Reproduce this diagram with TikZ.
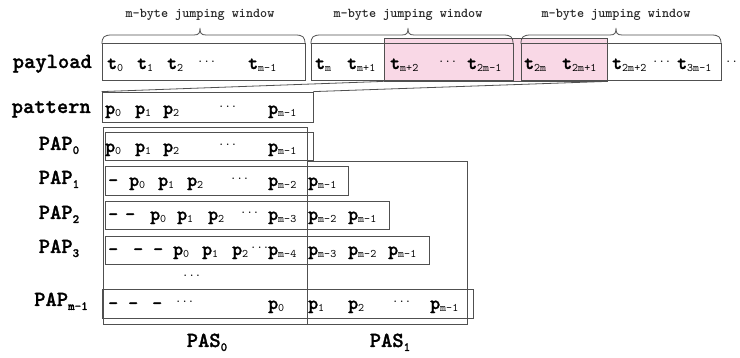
\documentclass[tikz,border=0pt]{standalone}
\usepackage{fontspec}
\usetikzlibrary{fit}
% heavy typewriter face for symbols and labels, plain one for subscripts
\newfontfamily\heavytt{lmmonolt10-bold.otf}[FakeBold=1.2]
\newfontfamily\plaintt{lmmono10-regular.otf}
\definecolor{linegray}{HTML}{505050}
\definecolor{winpink}{HTML}{F9D8E6}
% light subscript for cell symbols, bold subscript for row labels, raised dots
\newcommand\sbx[1]{\raisebox{-3pt}{\plaintt\fontsize{11.5}{11.5}\selectfont #1}}
\newcommand\lsb[1]{\raisebox{-4pt}{\fontsize{12.5}{12.5}\selectfont #1}}
\newcommand\dts{\raisebox{6pt}{\plaintt\fontsize{12}{12}\selectfont ...}}

\begin{document}
\begin{tikzpicture}[x=1pt,y=-1pt,
  box/.style={draw=linegray, line width=0.8pt, inner sep=0pt},
  ln/.style={draw=linegray, line width=0.8pt},
  tok/.style={anchor=base west, inner sep=0pt, font=\heavytt\fontsize{19}{19}\selectfont},
  rowlab/.style={inner sep=0pt, font=\heavytt\fontsize{21.5}{21.5}\selectfont},
  winlab/.style={inner sep=0pt, anchor=base, font=\ttfamily\bfseries\fontsize{13.5}{14}\selectfont, text=black!85},
  ]
\useasboundingbox (0,0) rectangle (740,358);

% ---- highlighted slice of the payload ----
\node[box, fit={(384,38) (607,81)}, fill=winpink] (pink) {};

% ---- payload windows ----
\node[box, fit={(102,43) (305,80)}] (pl1) {};
\node[box, fit={(311,43) (513,80)}] (pl2) {};
\node[box, fit={(521,43) (721,80)}] (pl3) {};

% curly braces over the windows
\foreach \l/\r/\t in {102/305/200, 311/513/408, 521/721/616}{
  \draw[ln] (\l,44) .. controls (\l,37) and (\l+2,35) .. (\l+10,35) -- (\t-6,35)
    .. controls (\t-1,35) and (\t,33) .. (\t,28)
    .. controls (\t,33) and (\t+1,35) .. (\t+6,35) -- (\r-10,35)
    .. controls (\r-2,35) and (\r,37) .. (\r,44);
}
\node[winlab] (w1) at (200,18) {m-byte jumping window};
\node[winlab] (w2) at (408,18) {m-byte jumping window};
\node[winlab] (w3) at (616,18) {m-byte jumping window};

% ---- pattern and the two PAS columns ----
\node[box, fit={(102,92) (313,122)}] (pat) {};
\node[box, fit={(103,127) (307,324)}] (pas0) {};
\node[box, fit={(307,161) (467,324)}] (pas1) {};

% ---- shifted patterns ----
\node[box, fit={(105,132) (313,160)}] (pap0) {};
\node[box, fit={(105,166) (348,195)}] (pap1) {};
\node[box, fit={(105,201) (389,229)}] (pap2) {};
\node[box, fit={(105,236) (429,264)}] (pap3) {};
\node[box, fit={(102,289) (473,318)}] (papm) {};

% funnel from the highlighted slice down to the pattern
\draw[ln] (pink.south west) -- (pat.north west);
\draw[ln] (pink.south east) -- (pat.north east);

% ---- row labels ----
\node[rowlab, anchor=base east] (lpay) at (92,68) {payload};
\node[rowlab, anchor=base east] (lpat) at (91,113) {pattern};
\node[rowlab, anchor=base] (l0) at (59,150) {PAP\lsb{0}};
\node[rowlab, anchor=base] (l1) at (59,184) {PAP\lsb{1}};
\node[rowlab, anchor=base] (l2) at (59,219) {PAP\lsb{2}};
\node[rowlab, anchor=base] (l3) at (59,253) {PAP\lsb{3}};
\node[rowlab, anchor=base] (lm) at (61,306) {PAP\lsb{m-1}};
\node[rowlab, anchor=base] (s0) at (207,347) {PAS\lsb{0}};
\node[rowlab, anchor=base] (s1) at (390,347) {PAS\lsb{1}};

% ---- payload symbols ----
\foreach \x/\s [count=\i] in {107/t\sbx{0}, 137/t\sbx{1}, 167/t\sbx{2}, 197/\dts, 248/t\sbx{m-1},
  315/t\sbx{m}, 347/t\sbx{m+1}, 390/t\sbx{m+2}, 438/\dts, 467/t\sbx{2m-1},
  524/t\sbx{2m}, 562/t\sbx{2m+1}, 612/t\sbx{2m+2}, 652/\dts, 677/t\sbx{3m-1}, 725/\raisebox{6pt}{\plaintt\fontsize{12}{12}\selectfont ..}}
  \node[tok] (t\i) at (\x,69) {\s};

% ---- pattern symbols ----
\foreach \x/\s [count=\i] in {105/p\sbx{0}, 135/p\sbx{1}, 163/p\sbx{2}, 218/\dts, 268/p\sbx{m-1}}
  \node[tok] (pa\i) at (\x,114) {\s};

% ---- PAP_0 ----
\foreach \x/\s [count=\i] in {105/p\sbx{0}, 135/p\sbx{1}, 163/p\sbx{2}, 218/\dts, 268/p\sbx{m-1}}
  \node[tok] (a\i) at (\x,152) {\s};

% ---- PAP_1 ----
\foreach \x/\s [count=\i] in {108/-, 129/p\sbx{0}, 158/p\sbx{1}, 187/p\sbx{2}, 230/\dts, 268/p\sbx{m-2}, 308/p\sbx{m-1}}
  \node[tok] (b\i) at (\x,186) {\s};

% ---- PAP_2 ----
\foreach \x/\s [count=\i] in {108/-, 125/-, 150/p\sbx{0}, 177/p\sbx{1}, 208/p\sbx{2}, 240/\dts, 268/p\sbx{m-3}, 308/p\sbx{m-2}, 348/p\sbx{m-1}}
  \node[tok] (c\i) at (\x,220) {\s};

% ---- PAP_3 ----
\foreach \x/\s [count=\i] in {108/-, 133/-, 153/-, 173/p\sbx{0}, 202/p\sbx{1}, 232/p\sbx{2}, 250/\dts, 268/p\sbx{m-4}, 308/p\sbx{m-3}, 348/p\sbx{m-2}, 388/p\sbx{m-1}}
  \node[tok] (d\i) at (\x,255) {\s};

% vertical ellipsis row
\node[tok] (vd) at (182,283) {\dts};

% ---- PAP_{m-1} ----
\foreach \x/\s [count=\i] in {108/-, 128/-, 152/-, 175/\dts, 268/p\sbx{0}, 308/p\sbx{1}, 348/p\sbx{2}, 392/\dts, 430/p\sbx{m-1}}
  \node[tok] (e\i) at (\x,309) {\s};
\end{tikzpicture}
\end{document}
